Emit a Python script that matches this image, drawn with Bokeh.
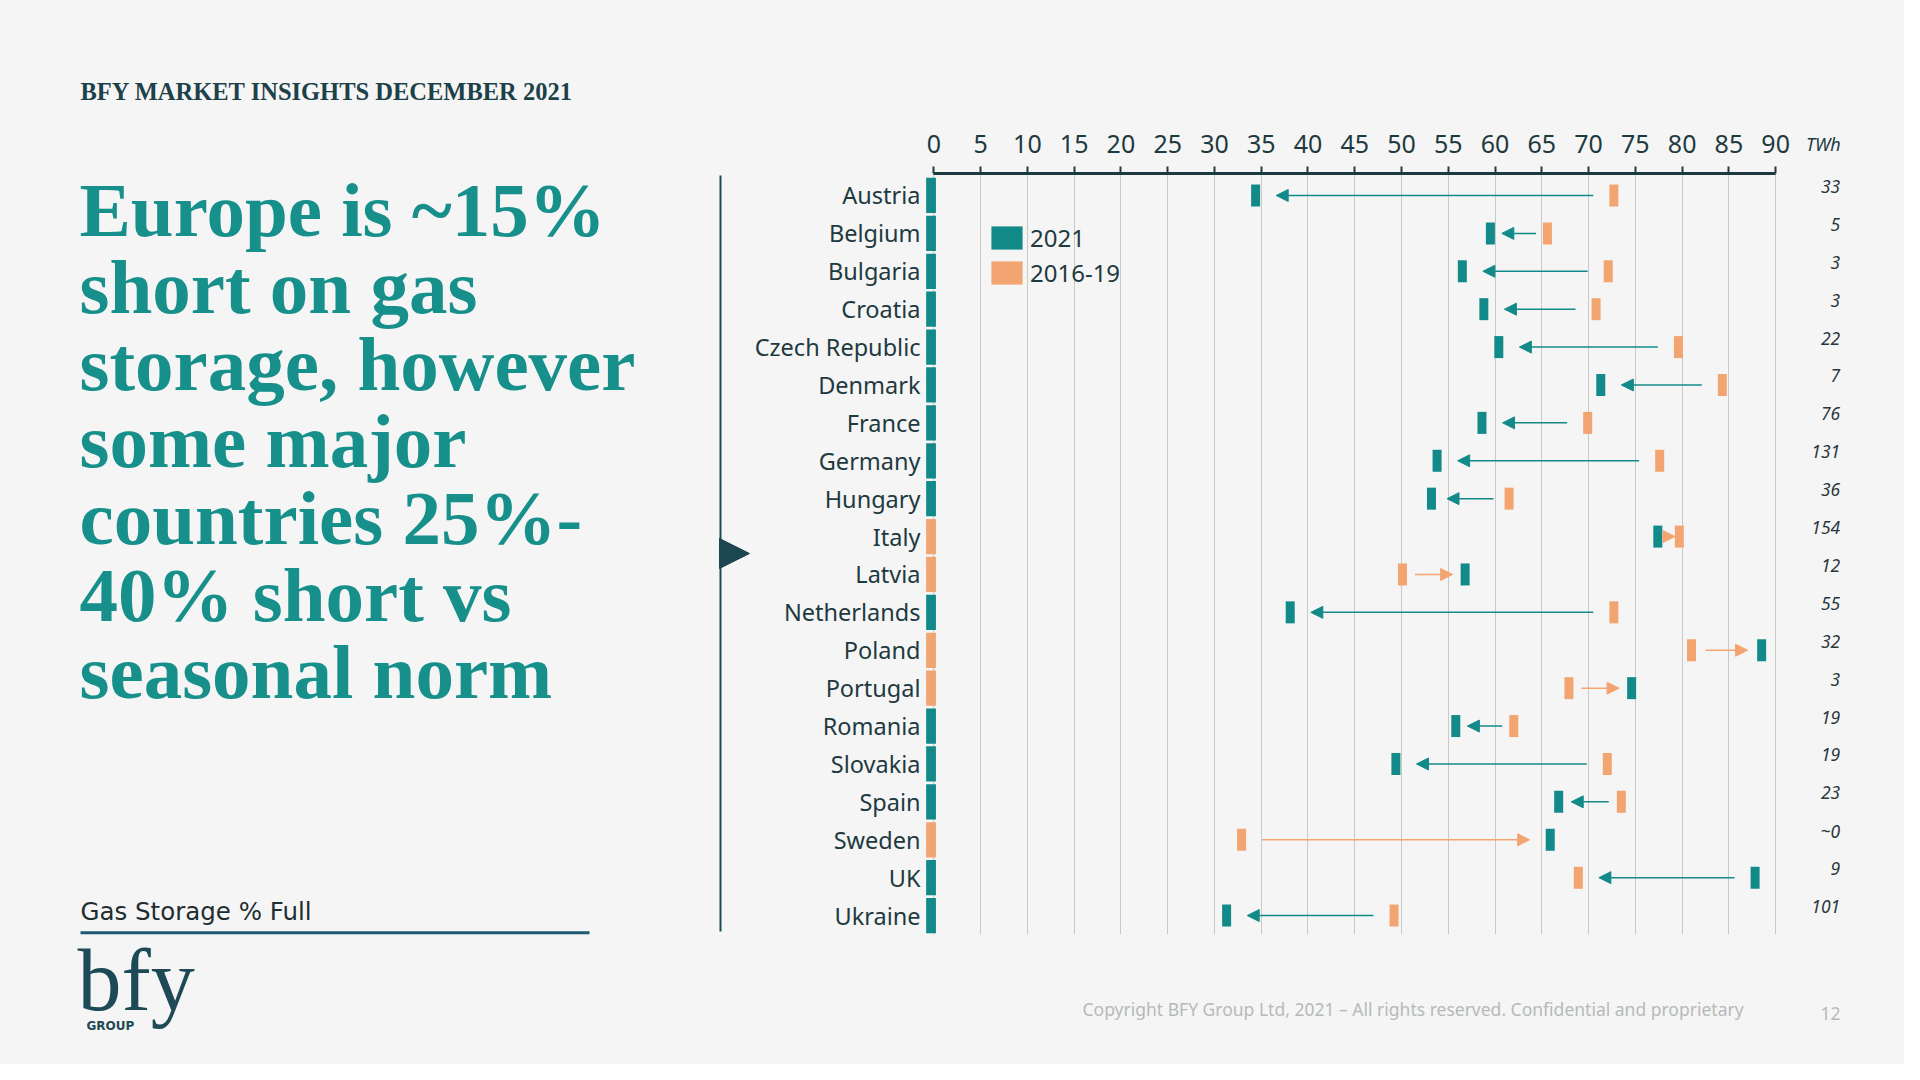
from bokeh.plotting import figure
from bokeh.layouts import row, column
from bokeh.models import (Range1d, FixedTicker, ColumnDataSource, Label, Arrow,
                          NormalHead, Legend, LegendItem, LinearAxis)
from bokeh.core.properties import value
from bokeh.embed import file_html
from bokeh.resources import INLINE

# ---------------- data ----------------
countries = ["Austria", "Belgium", "Bulgaria", "Croatia", "Czech Republic", "Denmark",
             "France", "Germany", "Hungary", "Italy", "Latvia", "Netherlands", "Poland",
             "Portugal", "Romania", "Slovakia", "Spain", "Sweden", "UK", "Ukraine"]
full_2021 = [34.4, 59.5, 56.5, 58.8, 60.4, 71.3, 58.6, 53.8, 53.2, 77.4,
             56.8, 38.1, 88.5, 74.6, 55.8, 49.4, 66.8, 65.9, 87.8, 31.3]
avg_2016_19 = [72.7, 65.6, 72.1, 70.8, 79.6, 84.3, 69.9, 77.6, 61.5, 79.7,
               50.1, 72.7, 81.0, 67.9, 62.0, 72.0, 73.5, 32.9, 68.9, 49.2]
vs_norm = ["short", "short", "short", "short", "short", "short", "short", "short", "short", "long",
           "long", "short", "long", "long", "short", "short", "short", "long", "short", "short"]
capacity_twh = ["33", "5", "3", "3", "22", "7", "76", "131", "36", "154",
                "12", "55", "32", "3", "19", "19", "23", "~0", "9", "101"]
x_ticks = list(range(0, 95, 5))
unit_label = "TWh"

header = "BFY MARKET INSIGHTS DECEMBER 2021"
title_lines = ["Europe is ~15%", "short on gas", "storage, however", "some major",
               "countries 25%-", "40% short vs", "seasonal norm"]
subtitle = "Gas Storage % Full"
copyright_txt = "Copyright BFY Group Ltd, 2021 \u2013 All rights reserved. Confidential and proprietary"
page_no = "12"

# ---------------- style ----------------
BG = "#f5f5f5"
TEAL = "#138a8a"
ORANGE = "#f3a571"
DARK = "#1e3a40"
TITLE = "#17908c"
NAVY = "#1d4a56"
GREY = "#b5bab9"

W, H = 1904, 1064
WL = 750          # left text panel width
HC = 960          # chart panel height
K = 0.35          # baseline correction factor (fraction of font size)


def blank(width, height, xr, yr):
    f = figure(width=width, height=height, x_range=Range1d(*xr), y_range=Range1d(*yr),
               output_backend="svg", toolbar_location=None,
               x_axis_location=None, y_axis_location=None,
               min_border_left=0, min_border_right=0, min_border_top=0, min_border_bottom=0)
    f.background_fill_color = BG
    f.border_fill_color = BG
    f.outline_line_color = None
    f.xgrid.grid_line_color = None
    f.ygrid.grid_line_color = None
    return f


def text_at(fig, x, baseline, txt, font, size, color, style="normal", align="left"):
    fig.add_layout(Label(x=x, y=baseline - K * size, text=txt, text_font=font,
                         text_font_style=style, text_font_size=f"{size}px",
                         text_color=color, text_baseline="alphabetic", text_align=align))


# ---------------- left panel ----------------
left = blank(WL, H, (0, WL), (H, 0))
text_at(left, 80, 99.5, header, "Liberation Serif", 24.5, "#1d4149", "bold")
for i, line in enumerate(title_lines):
    text_at(left, 79, 236 + i * 77.1, line, "Liberation Serif", 77, TITLE, "bold")
text_at(left, 80, 920, subtitle, "DejaVu Sans", 24.5, "#1f2d30")
left.add_layout(Arrow(end=None, x_start=80, y_start=932.3, x_end=589, y_end=932.3,
                      line_color="#1b5a70", line_width=3))
left.add_layout(Arrow(end=None, x_start=720, y_start=175, x_end=720, y_end=931,
                      line_color=NAVY, line_width=2))
left.add_layout(Arrow(x_start=719, y_start=553, x_end=749, y_end=553, line_alpha=0,
                      end=NormalHead(size=30, fill_color="#1c4650", line_color="#1c4650",
                                     line_width=1)))
text_at(left, 77, 1011, "bfy", "Liberation Serif", 88, NAVY)
text_at(left, 86, 1030, "GROUP", "DejaVu Sans", 12, NAVY, "bold")

# ---------------- chart ----------------
chart = figure(width=W - WL, height=HC, x_range=Range1d(-1, 98), y_range=Range1d(19.5, -0.58),
               x_axis_location="above", output_backend="svg", toolbar_location=None,
               min_border_left=174, min_border_right=54, min_border_top=173, min_border_bottom=26)
chart.background_fill_color = BG
chart.border_fill_color = BG
chart.outline_line_color = None

ticker = FixedTicker(ticks=x_ticks)
xa = chart.xaxis[0]
xa.ticker = ticker
xa.bounds = (0, 90)
xa.axis_line_width = 3
xa.axis_line_color = DARK
xa.major_tick_line_color = DARK
xa.major_tick_line_width = 2
xa.major_tick_out = 7
xa.major_tick_in = 0
xa.minor_tick_line_color = None
xa.major_label_text_font = "Noto Sans"
xa.major_label_text_font_size = "25px"
xa.major_label_text_color = DARK
xa.major_label_standoff = 14

unit_axis = LinearAxis(ticker=FixedTicker(ticks=[95.1]), major_label_overrides={95.1: unit_label},
                       axis_line_color=None, major_tick_line_color=None,
                       minor_tick_line_color=None, major_tick_out=0, major_tick_in=0,
                       major_label_standoff=-24, major_label_text_font="Noto Sans",
                       major_label_text_font_style="italic", major_label_text_font_size="18px",
                       major_label_text_color=DARK)
chart.add_layout(unit_axis, "above")

chart.xgrid.ticker = ticker
chart.xgrid.grid_line_color = "#c9c9c9"
chart.xgrid.grid_line_width = 1
chart.ygrid.grid_line_color = None

idx = list(range(len(countries)))
ya = chart.yaxis[0]
ya.ticker = FixedTicker(ticks=idx)
ya.major_label_overrides = {i: c for i, c in enumerate(countries)}
ya.axis_line_color = None
ya.major_tick_line_color = None
ya.minor_tick_line_color = None
ya.major_tick_out = 0
ya.major_tick_in = 0
ya.major_label_standoff = 4
ya.major_label_text_font = "Noto Sans"
ya.major_label_text_font_size = "23.5px"
ya.major_label_text_color = DARK

bar_colors = [ORANGE if s == "long" else TEAL for s in vs_norm]
chart.rect(x=-0.3, y=idx, width=1.05, height=0.93, fill_color=bar_colors, line_color=None)

ta = dict(x0=[], x1=[], y=[])
oa = dict(x0=[], x1=[], y=[])
for i, (a, b, s) in enumerate(zip(full_2021, avg_2016_19, vs_norm)):
    lo, hi = min(a, b), max(a, b)
    gap = min(2.2, 0.2 * (hi - lo))
    if s == "long":
        oa["x0"].append(lo + gap); oa["x1"].append(hi - gap); oa["y"].append(i)
    else:
        ta["x0"].append(hi - gap); ta["x1"].append(lo + gap); ta["y"].append(i)

for d, col in ((ta, TEAL), (oa, ORANGE)):
    chart.add_layout(Arrow(source=ColumnDataSource(d), x_start="x0", y_start="y",
                           x_end="x1", y_end="y", line_color=col, line_width=1.5,
                           end=NormalHead(size=12, fill_color=col, line_color=col, line_width=1)))

src = ColumnDataSource(dict(y=idx, v21=full_2021, vavg=avg_2016_19))
r_avg = chart.rect(x="vavg", y="y", width=9, height=22, width_units="screen",
                   height_units="screen", fill_color=ORANGE, line_color=None, source=src)
r_21 = chart.rect(x="v21", y="y", width=9, height=22, width_units="screen",
                  height_units="screen", fill_color=TEAL, line_color=None, source=src)

legend = Legend(items=[LegendItem(label="2021", renderers=[r_21]),
                       LegendItem(label="2016-19", renderers=[r_avg])],
                location=(63, 645), orientation="vertical",
                glyph_width=39, glyph_height=29, label_height=29, spacing=2,
                label_standoff=4, padding=0, margin=0,
                border_line_color=None, background_fill_alpha=0,
                label_text_font="Noto Sans", label_text_font_size="24px",
                label_text_color=DARK)
chart.add_layout(legend)

chart.text(x=96.9, y=idx, text=capacity_twh, y_offset=-9, text_align="right",
           text_baseline="middle", text_font=value("Noto Sans"), text_font_style="italic",
           text_font_size="17.5px", text_color="#2a363a")

# ---------------- footer (frame aligned with the chart frame in the column) ----------------
footer = blank(W - WL, H - HC, (924, 1850), (H, HC))
footer.add_layout(Label(x=1082, y=1008, text=copyright_txt, text_font="Noto Sans",
                        text_font_size="17.5px", text_color=GREY, text_baseline="middle"))
footer.add_layout(Label(x=1840, y=1013, text=page_no, text_font="Noto Sans",
                        text_font_size="17.5px", text_color=GREY, text_baseline="middle",
                        text_align="right"))

p = row(left, column(chart, footer, spacing=0, styles={"background-color": BG}),
        spacing=0, styles={"background-color": BG})

open("out.html", "w").write(file_html(p, INLINE))
